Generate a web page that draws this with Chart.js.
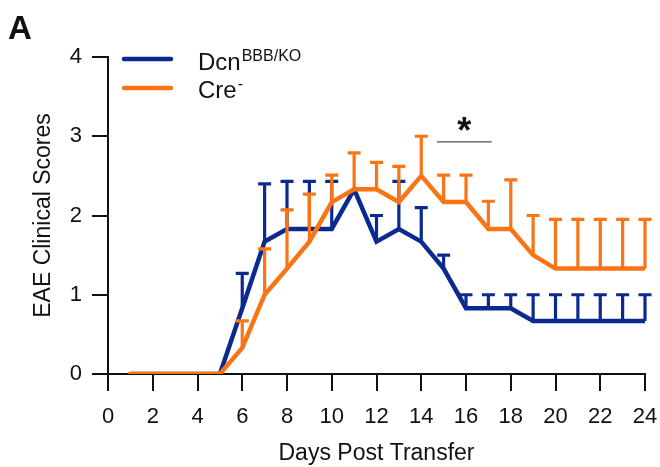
<!DOCTYPE html>
<html>
<head>
<meta charset="utf-8">
<script src="https://cdn.jsdelivr.net/npm/chart.js@4.4.1/dist/chart.umd.min.js"></script>
<style>
  html, body { margin: 0; padding: 0; background: #fff; }
  #wrap { width: 660px; height: 467px; position: relative; }
</style>
</head>
<body>
<div id="wrap"><canvas id="eaeChart"></canvas></div>
<script>
// ---- data ----
const days = [1, 2, 3, 4, 5, 6, 7, 8, 9, 10, 11, 12, 13, 14, 15, 16, 17, 18, 19, 20, 21, 22, 23, 24];
const dcnMean = [0, 0, 0, 0, 0, 0.83, 1.67, 1.83, 1.83, 1.83, 2.33, 1.67, 1.83, 1.67, 1.33, 0.83, 0.83, 0.83, 0.67, 0.67, 0.67, 0.67, 0.67, 0.67];
const dcnSem  = [0, 0, 0, 0, 0, 0.44, 0.73, 0.6, 0.6, 0.6, 0, 0.33, 0.6, 0.43, 0.17, 0.17, 0.17, 0.17, 0.33, 0.33, 0.33, 0.33, 0.33, 0.33];
const creMean = [0, 0, 0, 0, 0, 0.33, 1.0, 1.33, 1.67, 2.17, 2.33, 2.33, 2.17, 2.5, 2.17, 2.17, 1.83, 1.83, 1.5, 1.33, 1.33, 1.33, 1.33, 1.33];
const creSem  = [0, 0, 0, 0, 0, 0.34, 0.58, 0.74, 0.6, 0.34, 0.46, 0.34, 0.45, 0.5, 0.34, 0.34, 0.35, 0.62, 0.5, 0.62, 0.62, 0.62, 0.62, 0.62];
const xTicks = [0, 2, 4, 6, 8, 10, 12, 14, 16, 18, 20, 22, 24];
const yTicks = [0, 1, 2, 3, 4];
const sigDays = [14.7, 17.15];   // span of the significance bar
const sigLevel = 2.93;

const BLUE = '#0a2a90';
const ORANGE = '#fb7414';
const INK = '#111';
const FONT = "'Liberation Sans', Arial, sans-serif";

const toPoints = (ys) => days.map((d, i) => ({ x: d, y: ys[i] }));

// upward SEM bars, drawn right after their own line so orange sits on top of blue
const errorBars = {
  id: 'errorBars',
  afterDatasetDraw(chart, args) {
    const ds = chart.data.datasets[args.index];
    if (!ds.sem) return;
    const ctx = chart.ctx;
    const yScale = chart.scales.y;
    ctx.save();
    ctx.strokeStyle = ds.borderColor;
    ctx.lineWidth = 3.2;
    ctx.lineCap = 'butt';
    args.meta.data.forEach((pt, i) => {
      const s = ds.sem[i];
      if (!s) return;
      const top = yScale.getPixelForValue(ds.data[i].y + s);
      ctx.beginPath();
      ctx.moveTo(pt.x, pt.y);
      ctx.lineTo(pt.x, top);
      ctx.moveTo(pt.x - 6.5, top);
      ctx.lineTo(pt.x + 6.5, top);
      ctx.stroke();
    });
    ctx.restore();
  }
};

// legend with superscripts, panel letter and the asterisk
const annotations = {
  id: 'annotations',
  afterDraw(chart) {
    const ctx = chart.ctx;
    ctx.save();
    ctx.fillStyle = INK;
    ctx.textBaseline = 'alphabetic';
    ctx.font = 'bold 33px ' + FONT;
    ctx.fillText('A', 8, 39);

    const rows = [
      { color: BLUE, y: 59, base: 70, label: 'Dcn', sup: 'BBB/KO' },
      { color: ORANGE, y: 88, base: 98, label: 'Cre', sup: '-' }
    ];
    rows.forEach(r => {
      ctx.strokeStyle = r.color;
      ctx.lineWidth = 4.5;
      ctx.lineCap = 'round';
      ctx.beginPath();
      ctx.moveTo(124, r.y);
      ctx.lineTo(171, r.y);
      ctx.stroke();
      ctx.font = '24px ' + FONT;
      ctx.fillText(r.label, 198, r.base);
      const w = ctx.measureText(r.label).width;
      ctx.font = '16px ' + FONT;
      ctx.fillText(r.sup, 198 + w + 1, r.base - 9);
    });

    const x = chart.scales.x, y = chart.scales.y;
    const midX = (x.getPixelForValue(sigDays[0]) + x.getPixelForValue(sigDays[1])) / 2;
    ctx.font = 'bold 36px ' + FONT;
    ctx.textAlign = 'center';
    ctx.textBaseline = 'middle';
    ctx.fillText('*', midX, y.getPixelForValue(sigLevel) - 9);
    ctx.restore();
  }
};

const tickFont = { family: FONT, size: 22 };
const titleFont = { family: FONT, size: 23 };

new Chart(document.getElementById('eaeChart'), {
  type: 'line',
  data: {
    datasets: [
      {
        label: 'DcnBBB/KO',
        data: toPoints(dcnMean),
        sem: dcnSem,
        borderColor: BLUE,
        borderWidth: 4.5,
        pointRadius: 0,
        borderCapStyle: 'round',
        borderJoinStyle: 'miter',
        tension: 0,
        order: 2
      },
      {
        label: 'Cre-',
        data: toPoints(creMean),
        sem: creSem,
        borderColor: ORANGE,
        borderWidth: 4.5,
        pointRadius: 0,
        borderCapStyle: 'round',
        borderJoinStyle: 'miter',
        tension: 0,
        order: 1
      },
      {
        label: 'sig',
        data: sigDays.map(d => ({ x: d, y: sigLevel })),
        borderColor: '#555',
        borderWidth: 1.2,
        pointRadius: 0,
        order: 0
      }
    ]
  },
  options: {
    responsive: true,
    maintainAspectRatio: false,
    animation: false,
    events: [],
    layout: { padding: { left: 0, right: 15, top: 57, bottom: 0 } },
    plugins: {
      legend: { display: false },
      tooltip: { enabled: false }
    },
    scales: {
      x: {
        type: 'linear',
        min: 0,
        max: 24,
        afterBuildTicks: (s) => { s.ticks = xTicks.map(v => ({ value: v })); },
        afterFit: (s) => { s.height = 93; s.paddingLeft = 0; s.paddingRight = 0; },
        grid: { drawOnChartArea: false, drawTicks: true, tickLength: 17, color: INK, lineWidth: 2 },
        border: { display: true, color: INK, width: 2 },
        ticks: { color: INK, font: tickFont, padding: 13, maxRotation: 0 },
        title: { display: true, text: 'Days Post Transfer', color: INK, font: titleFont, padding: { top: 0, bottom: 0 } }
      },
      y: {
        min: 0,
        max: 4,
        afterBuildTicks: (s) => { s.ticks = yTicks.map(v => ({ value: v })); },
        afterFit: (s) => { s.width = 108; s.paddingTop = 0; s.paddingBottom = 0; },
        grid: { drawOnChartArea: false, drawTicks: true, tickLength: 16, color: INK, lineWidth: 2 },
        border: { display: true, color: INK, width: 2 },
        ticks: { color: INK, font: tickFont, padding: 10 },
        title: { display: true, text: 'EAE Clinical Scores', color: INK, font: titleFont, padding: { top: 30, bottom: 0 } }
      }
    }
  },
  plugins: [errorBars, annotations]
});
</script>
</body>
</html>
